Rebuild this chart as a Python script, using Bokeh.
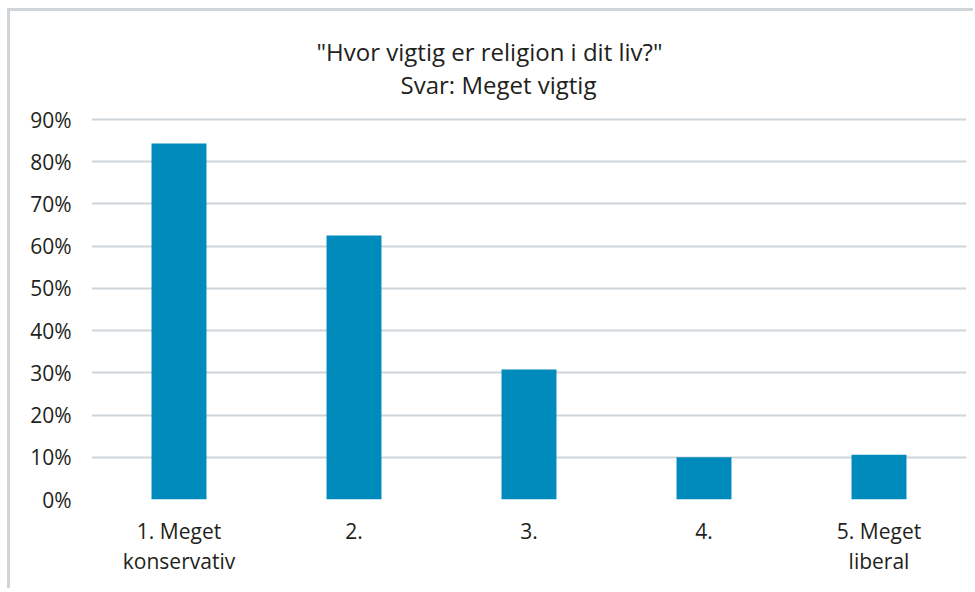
from bokeh.plotting import figure
from bokeh.models import FactorRange, Range1d, FixedTicker, ColumnDataSource
from bokeh.core.properties import value
from bokeh.embed import file_html
from bokeh.resources import INLINE

categories = ["1. Meget\nkonservativ", "2.", "3.", "4.", "5. Meget\nliberal"]
values = [0.843, 0.625, 0.308, 0.100, 0.106]
y_ticks = [0.0, 0.1, 0.2, 0.3, 0.4, 0.5, 0.6, 0.7, 0.8, 0.9]
y_tick_labels = ["0%", "10%", "20%", "30%", "40%", "50%", "60%", "70%", "80%", "90%"]
title_lines = ['"Hvor vigtig er religion i dit liv?"', "Svar: Meget vigtig"]

FONT = "Open Sans"
TEXT = "#231f20"
GRID = "#d0d5da"
BAR = "#008bbd"

# the plot frame reaches the top of the chart box so the title can sit inside it
AXIS_H = 380          # pixels from 0% to 90%
FRAME_H = 488
y_top = y_ticks[-1] * FRAME_H / AXIS_H

src = ColumnDataSource(dict(cat=categories, val=values))

p = figure(
    x_range=FactorRange(*categories, range_padding=0),
    y_range=Range1d(0, y_top),
    frame_width=875, frame_height=FRAME_H,
    min_border_left=81, min_border_right=7, min_border_top=0, min_border_bottom=89,
    output_backend="svg", toolbar_location=None,
    outline_line_color=None,
    background_fill_color="white", border_fill_color="white",
)
p.styles = {"border-left": "3px solid #d0d5da", "border-top": "3px solid #d0d5da",
            "margin-left": "7px", "margin-top": "8px"}

p.vbar(x="cat", top="val", width=0.314, source=src, fill_color=BAR, line_color=None)

# two-line title, centred over the whole chart box (slightly left of the plot centre)
mid = categories[len(categories) // 2]
tsrc = ColumnDataSource(dict(x=[mid, mid], y=[1.061, 0.983], t=title_lines, dx=[-39.5, -30.5]))
p.text(x="x", y="y", text="t", x_offset="dx", source=tsrc,
       text_align="center", text_baseline="alphabetic",
       text_font=value(FONT), text_font_size=value("24px"), text_color=TEXT)

p.yaxis.ticker = FixedTicker(ticks=y_ticks)
p.yaxis.major_label_overrides = {t: l for t, l in zip(y_ticks, y_tick_labels)}
p.yaxis.axis_line_color = None
p.yaxis.major_tick_line_color = None
p.yaxis.minor_tick_line_color = None
p.yaxis.major_label_standoff = 14
p.yaxis.major_label_text_font = FONT
p.yaxis.major_label_text_font_size = "21px"
p.yaxis.major_label_text_color = TEXT

p.xaxis.axis_line_color = None
p.xaxis.major_tick_line_color = None
p.xaxis.major_label_standoff = 11
p.xaxis.major_label_text_font = FONT
p.xaxis.major_label_text_font_size = "21px"
p.xaxis.major_label_text_color = TEXT
p.xaxis.major_label_text_line_height = 1.1

p.xgrid.grid_line_color = None
p.ygrid.grid_line_color = GRID
p.ygrid.grid_line_width = 2
p.ygrid.ticker = FixedTicker(ticks=y_ticks)

open("out.html", "w").write(file_html(p, INLINE))
